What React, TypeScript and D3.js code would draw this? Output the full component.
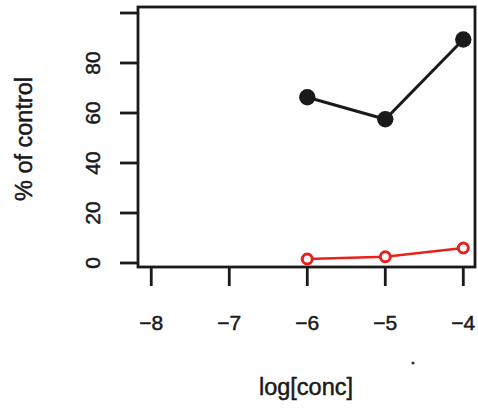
import React from "react";
import * as d3 from "d3";

const xTicks = [-8, -7, -6, -5, -4];
const yTicks = [0, 20, 40, 60, 80, 100];
const yTickLabels = ["0", "20", "40", "60", "80", ""];
const logConc = [-6, -5, -4];
const blackSeries = [66.3, 57.5, 89.4];
const redSeries = [1.6, 2.5, 6.0];

const W = 478;
const H = 408;
const box = { left: 138, right: 475, top: 7, bottom: 267 };

export default function App() {
  const x = d3.scaleLinear().domain([-8.17, -3.85]).range([box.left, box.right]);
  const y = d3.scaleLinear().domain([-1.6, 102.4]).range([box.bottom, box.top]);
  const line = d3
    .line<[number, number]>()
    .x((d) => x(d[0]))
    .y((d) => y(d[1]));
  const blackPts: [number, number][] = logConc.map((c, i) => [c, blackSeries[i]]);
  const redPts: [number, number][] = logConc.map((c, i) => [c, redSeries[i]]);
  const font = "'Liberation Sans', Arial, Helvetica, sans-serif";
  const ink = "#1a1a1a";
  const textStroke = { stroke: ink, strokeWidth: 0.5 };
  return (
    <svg
      width={W}
      height={H}
      style={{ position: "absolute", left: 0, top: 0, background: "#fff" }}
      fontFamily={font}
    >
      <rect
        x={box.left}
        y={box.top}
        width={box.right - box.left}
        height={box.bottom - box.top}
        fill="none"
        stroke={ink}
        strokeWidth={2.8}
      />
      {yTicks.map((t, i) => (
        <g key={"y" + t}>
          <line x1={120} x2={box.left} y1={y(t)} y2={y(t)} stroke={ink} strokeWidth={2.8} />
          <text
            transform={`translate(${100},${y(t)}) rotate(-90)`}
            textAnchor="middle"
            fontSize={21}
            fill={ink}
            {...textStroke}
          >
            {yTickLabels[i]}
          </text>
        </g>
      ))}
      {xTicks.map((t) => (
        <g key={"x" + t}>
          <line x1={x(t)} x2={x(t)} y1={box.bottom} y2={286} stroke={ink} strokeWidth={2.8} />
          <text x={x(t)} y={330} textAnchor="middle" fontSize={21} fill={ink} {...textStroke}>
            {"\u2212" + Math.abs(t)}
          </text>
        </g>
      ))}
      <text
        transform={`translate(${32},${139}) rotate(-90)`}
        textAnchor="middle"
        fontSize={23.5}
        fill={ink}
        {...textStroke}
      >
        % of control
      </text>
      <text x={306} y={395} textAnchor="middle" fontSize={23.5} fill={ink} {...textStroke}>
        log[conc]
      </text>
      <circle cx={413} cy={363} r={1.6} fill="#333" />
      <path d={line(blackPts) || ""} fill="none" stroke={ink} strokeWidth={3} />
      {blackPts.map((p, i) => (
        <circle key={"b" + i} cx={x(p[0])} cy={y(p[1])} r={8.2} fill={ink} />
      ))}
      <path d={line(redPts) || ""} fill="none" stroke="#e8211d" strokeWidth={2.6} />
      {redPts.map((p, i) => (
        <circle
          key={"r" + i}
          cx={x(p[0])}
          cy={y(p[1])}
          r={5}
          fill="#fff"
          stroke="#e8211d"
          strokeWidth={3}
        />
      ))}
    </svg>
  );
}
